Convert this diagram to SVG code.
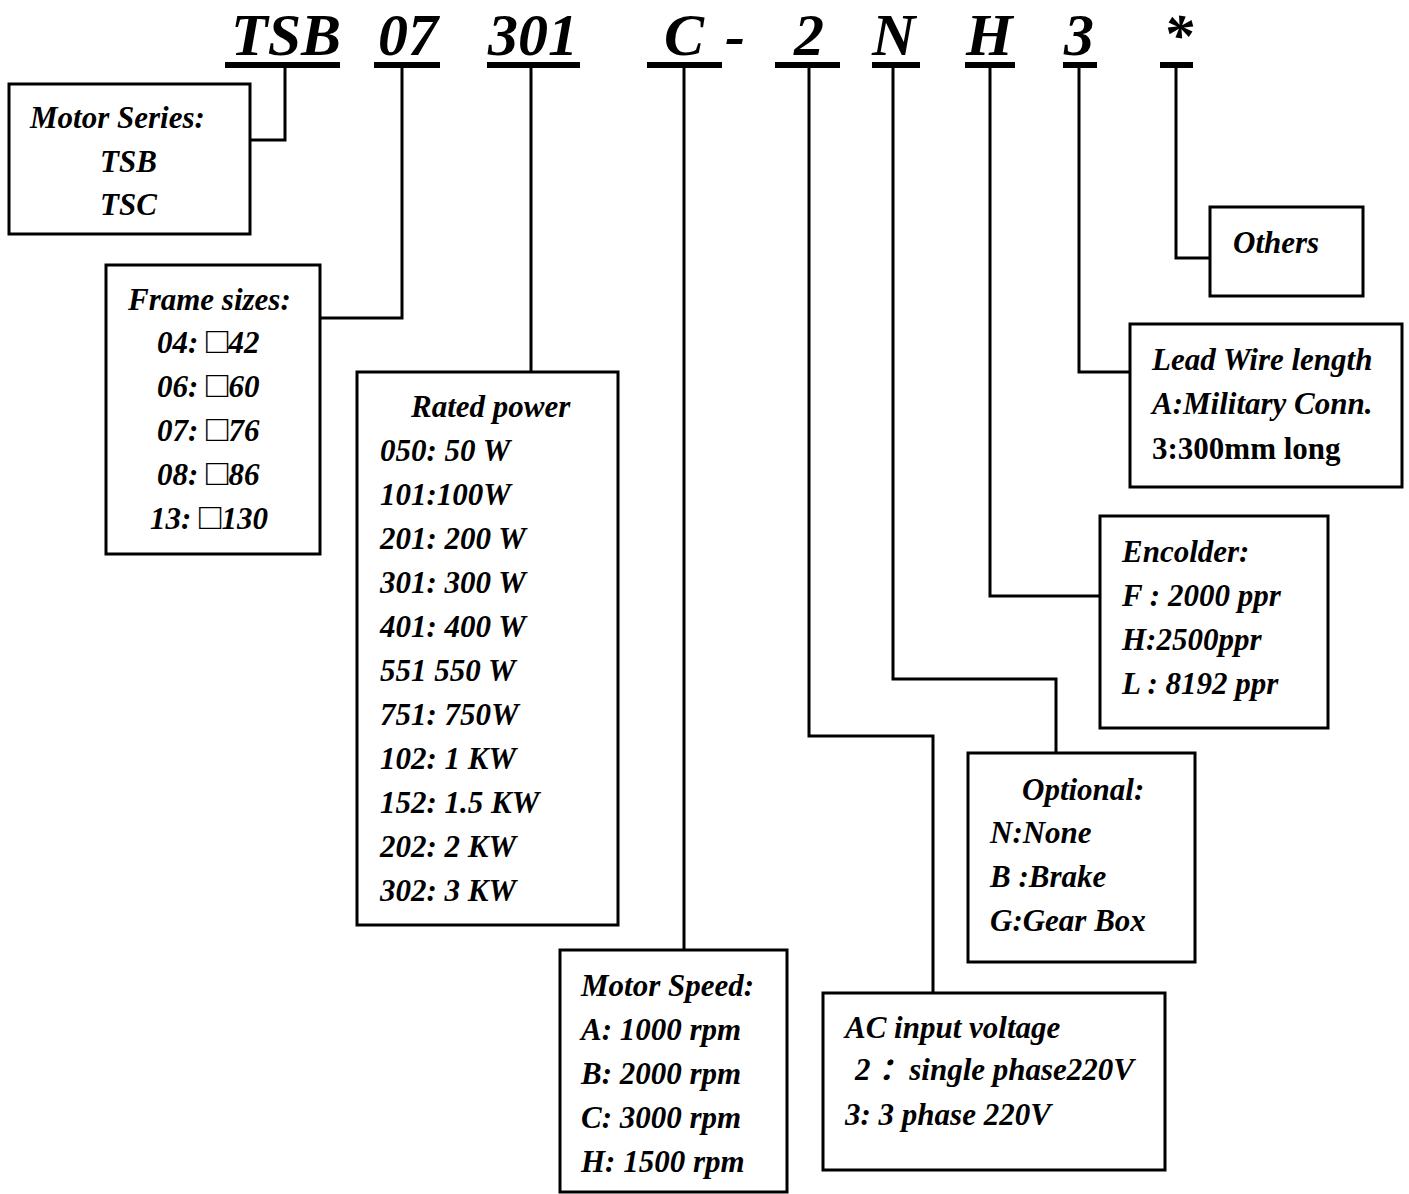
<svg xmlns="http://www.w3.org/2000/svg" width="1409" height="1194" viewBox="0 0 1409 1194">
<style>
text{font-family:"Liberation Serif","Noto Sans CJK SC",serif;font-weight:bold;font-style:italic;fill:#000}
.h{font-size:60px}
.t{font-size:31px}
.sq{font-size:37px}
.up{font-style:normal}
.box{fill:#fff;stroke:#000;stroke-width:3}
.bar{fill:#000}
.ln{fill:none;stroke:#000;stroke-width:3}
</style>
<rect width="1409" height="1194" fill="#fff"/>
<g id="header">
<text class="h" x="231" y="55">TSB</text>
<text class="h" x="378" y="55">07</text>
<text class="h" x="488" y="55">301</text>
<text class="h" x="664" y="55">C</text>
<text class="h" x="725" y="55">-</text>
<text class="h" x="794" y="55">2</text>
<text class="h" x="872" y="55">N</text>
<text class="h" x="966" y="55">H</text>
<text class="h" x="1064" y="55">3</text>
<text class="h" x="1163" y="55">*</text>
<rect class="bar" x="225" y="62" width="115" height="6"/>
<rect class="bar" x="374" y="62" width="66" height="6"/>
<rect class="bar" x="487" y="62" width="93" height="6"/>
<rect class="bar" x="647" y="62" width="75" height="6"/>
<rect class="bar" x="775" y="62" width="65" height="6"/>
<rect class="bar" x="872" y="62" width="48" height="6"/>
<rect class="bar" x="965" y="62" width="50" height="6"/>
<rect class="bar" x="1063" y="62" width="34" height="6"/>
<rect class="bar" x="1160" y="62" width="33" height="6"/>
</g>
<g id="connectors">
<path class="ln" d="M285 68 V140 H250"/>
<path class="ln" d="M402 68 V318 H320"/>
<path class="ln" d="M531 68 V372"/>
<path class="ln" d="M684 68 V950"/>
<path class="ln" d="M809 68 V736 H933 V993"/>
<path class="ln" d="M893 68 V679 H1056 V753"/>
<path class="ln" d="M990 68 V596 H1100"/>
<path class="ln" d="M1079 68 V372 H1130"/>
<path class="ln" d="M1176 68 V258 H1210"/>
</g>
<g id="motor-series">
<rect class="box" x="9" y="84" width="241" height="150"/>
<text class="t" x="30" y="128">Motor Series:</text>
<text class="t" x="100" y="172">TSB</text>
<text class="t" x="100" y="215">TSC</text>
</g>
<g id="frame-sizes">
<rect class="box" x="106" y="265" width="214" height="289"/>
<text class="t" x="128" y="310">Frame sizes:</text>
<text class="t" x="157" y="353">04: <tspan class="sq">□</tspan>42</text>
<text class="t" x="157" y="397">06: <tspan class="sq">□</tspan>60</text>
<text class="t" x="157" y="441">07: <tspan class="sq">□</tspan>76</text>
<text class="t" x="157" y="485">08: <tspan class="sq">□</tspan>86</text>
<text class="t" x="150" y="529">13: <tspan class="sq">□</tspan>130</text>
</g>
<g id="rated-power">
<rect class="box" x="357" y="372" width="261" height="553"/>
<text class="t" x="411" y="417">Rated power</text>
<text class="t" x="380" y="461">050: 50 W</text>
<text class="t" x="380" y="505">101:100W</text>
<text class="t" x="380" y="549">201: 200 W</text>
<text class="t" x="380" y="593">301: 300 W</text>
<text class="t" x="380" y="637">401: 400 W</text>
<text class="t" x="380" y="681">551 550 W</text>
<text class="t" x="380" y="725">751: 750W</text>
<text class="t" x="380" y="769">102: 1 KW</text>
<text class="t" x="380" y="813">152: 1.5 KW</text>
<text class="t" x="380" y="857">202: 2 KW</text>
<text class="t" x="380" y="901">302: 3 KW</text>
</g>
<g id="motor-speed">
<rect class="box" x="560" y="950" width="227" height="242"/>
<text class="t" x="581" y="996">Motor Speed:</text>
<text class="t" x="581" y="1040">A: 1000 rpm</text>
<text class="t" x="581" y="1084">B: 2000 rpm</text>
<text class="t" x="581" y="1128">C: 3000 rpm</text>
<text class="t" x="581" y="1172">H: 1500 rpm</text>
</g>
<g id="ac-input">
<rect class="box" x="823" y="993" width="342" height="177"/>
<text class="t" x="845" y="1038">AC input voltage</text>
<text class="t" x="855" y="1080">2 ：single phase220V</text>
<text class="t" x="845" y="1125">3: 3 phase 220V</text>
</g>
<g id="optional">
<rect class="box" x="968" y="753" width="227" height="209"/>
<text class="t" x="1022" y="800">Optional:</text>
<text class="t" x="990" y="843">N:None</text>
<text class="t" x="990" y="887">B :Brake</text>
<text class="t" x="990" y="931">G:Gear Box</text>
</g>
<g id="encoder">
<rect class="box" x="1100" y="516" width="228" height="212"/>
<text class="t" x="1122" y="562">Encolder:</text>
<text class="t" x="1122" y="606">F : 2000 ppr</text>
<text class="t" x="1122" y="650">H:2500ppr</text>
<text class="t" x="1122" y="694">L : 8192 ppr</text>
</g>
<g id="lead-wire">
<rect class="box" x="1130" y="324" width="272" height="163"/>
<text class="t" x="1152" y="370">Lead Wire length</text>
<text class="t" x="1152" y="414">A:Military Conn.</text>
<text class="t up" x="1152" y="459">3:300mm long</text>
</g>
<g id="others">
<rect class="box" x="1210" y="207" width="153" height="89"/>
<text class="t" x="1233" y="253">Others</text>
</g>
</svg>
